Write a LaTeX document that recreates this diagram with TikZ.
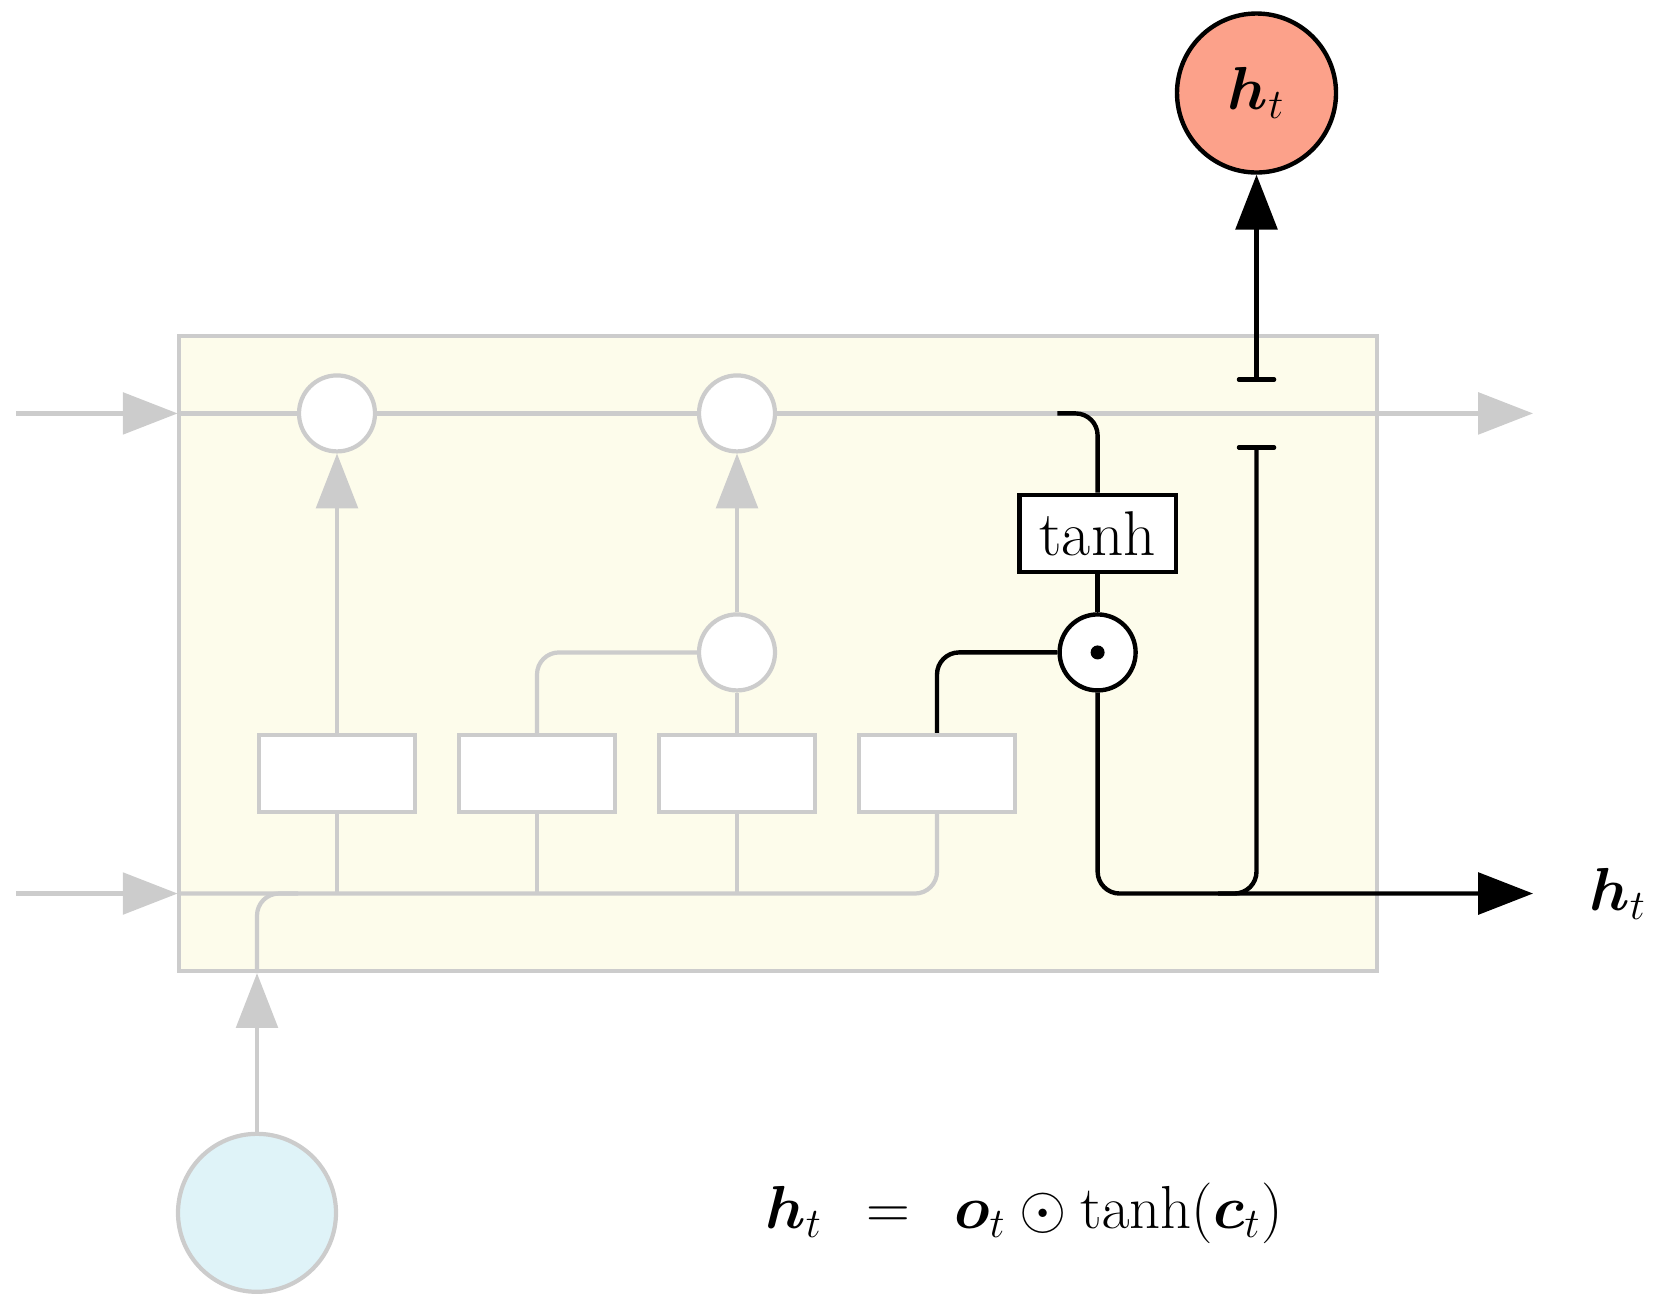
\documentclass[tikz,border=0pt]{standalone}
\usepackage{amsmath,amssymb,bm}
\usetikzlibrary{arrows.meta,positioning}
\definecolor{linegrey}{HTML}{CCCCCC}
\definecolor{cellbg}{HTML}{FDFCEB}
\definecolor{outred}{HTML}{FCA18A}
\definecolor{inblue}{HTML}{DFF3F8}

\begin{document}
\begin{tikzpicture}[
      >={Triangle[length=15.6pt,width=11.8pt]},
      gline/.style={draw=linegrey,color=linegrey,line width=1.2pt},
      bline/.style={draw=black,line width=1.25pt},
      garrow/.style={gline,->},
      barrow/.style={bline,->},
      cellbox/.style={rectangle,gline,fill=cellbg,minimum width=11.98cm,
                      minimum height=6.35cm,inner sep=0pt},
      gcirc/.style={circle,gline,fill=white,minimum size=0.76cm,inner sep=0pt},
      gbox/.style={rectangle,gline,fill=white,minimum width=1.565cm,
                   minimum height=0.77cm,inner sep=0pt},
      tbox/.style={rectangle,bline,fill=white,minimum width=1.565cm,
                   minimum height=0.77cm,inner sep=0pt,
                   font=\fontsize{18}{20}\selectfont},
      lbl/.style={font=\fontsize{17}{20}\selectfont}]
    \useasboundingbox (0,0) rectangle (16.58,-12.95);
    % cell
    \node[cellbox] (cell) at (7.777,-6.535) {};
    \coordinate (crow) at (1.776,-4.134);
    \coordinate (hrow) at (1.776,-8.935);
    \coordinate (cin) at (0.16,-4.134);
    \coordinate (cout) at (15.33,-4.134);
    \coordinate (hin) at (0.16,-8.935);
    % gates and pointwise ops
    \node[gbox] (g1) at (3.37,-7.735) {};
    \node[gbox] (g2) at (5.37,-7.735) {};
    \node[gbox] (g3) at (7.37,-7.735) {};
    \node[gbox] (g4) at (9.37,-7.735) {};
    \node[gcirc] (f1) at (3.37,-4.134) {};
    \node[gcirc] (f2) at (7.37,-4.134) {};
    \node[gcirc] (mi) at (7.37,-6.524) {};
    \node[circle,bline,fill=white,minimum size=0.76cm,inner sep=0pt]
      (odot) at (10.976,-6.524) {};
    \fill (odot.center) circle (0.07);
    \node[tbox] (tanhbox) at (10.976,-5.334) {tanh};
    % input and outputs
    \node[circle,gline,fill=inblue,minimum size=1.58cm] (xin) at (2.57,-12.128) {};
    \node[circle,bline,fill=outred,minimum size=1.59cm,lbl] (hout) at (12.565,-0.93)
      {$\bm{h}_t$};
    \node[lbl] (hlabel) at (16.18,-8.935) {$\bm{h}_t$};
    \node[lbl] (eqn) at (10.24,-12.13)
      {$\bm{h}_t\;\,=\;\,\bm{o}_t\odot\tanh(\bm{c}_t)$};
    \coordinate (xjoin) at (2.98,-8.935);
    \coordinate (cstub) at (10.574,-4.134);
    \coordinate (tb1) at (12.565,-3.817);
    \coordinate (tb2) at (12.565,-4.452);
    \coordinate (hjoin) at (12.18,-8.935);
    \coordinate (hright) at (15.33,-8.935);
    % grey connectors
    \draw[garrow] (cin) -- (crow);
    \draw[gline] (crow) -- (f1) (f1) -- (f2);
    \draw[garrow] (f2) -- (cout);
    \draw[garrow] (hin) -- (hrow);
    \draw[gline,rounded corners=0.22cm] (hrow) -| (g4);
    \draw[garrow] (xin) -- (xin |- cell.south);
    \draw[gline,rounded corners=0.22cm] (xin |- cell.south) |- (xjoin);
    \draw[gline] (g1) -- (g1 |- hrow);
    \draw[gline] (g2) -- (g2 |- hrow);
    \draw[gline] (g3) -- (g3 |- hrow);
    \draw[garrow] (g1) -- (f1);
    \draw[gline,rounded corners=0.22cm] (g2) |- (mi);
    \draw[gline] (g3) -- (mi);
    \draw[garrow] (mi) -- (f2);
    % black connectors
    \draw[bline,rounded corners=0.22cm] (g4) |- (odot);
    \draw[bline] (odot) -- (tanhbox);
    \draw[bline,rounded corners=0.22cm] (cstub) -| (tanhbox);
    \draw[barrow,rounded corners=0.22cm] (odot) |- (hright);
    \draw[bline,{Bar[width=10pt,round]}-,rounded corners=0.22cm] (tb2) |- (hjoin);
    \draw[bline,{Bar[width=10pt,round]}->] (tb1) -- (hout);
  \end{tikzpicture}
\end{document}
